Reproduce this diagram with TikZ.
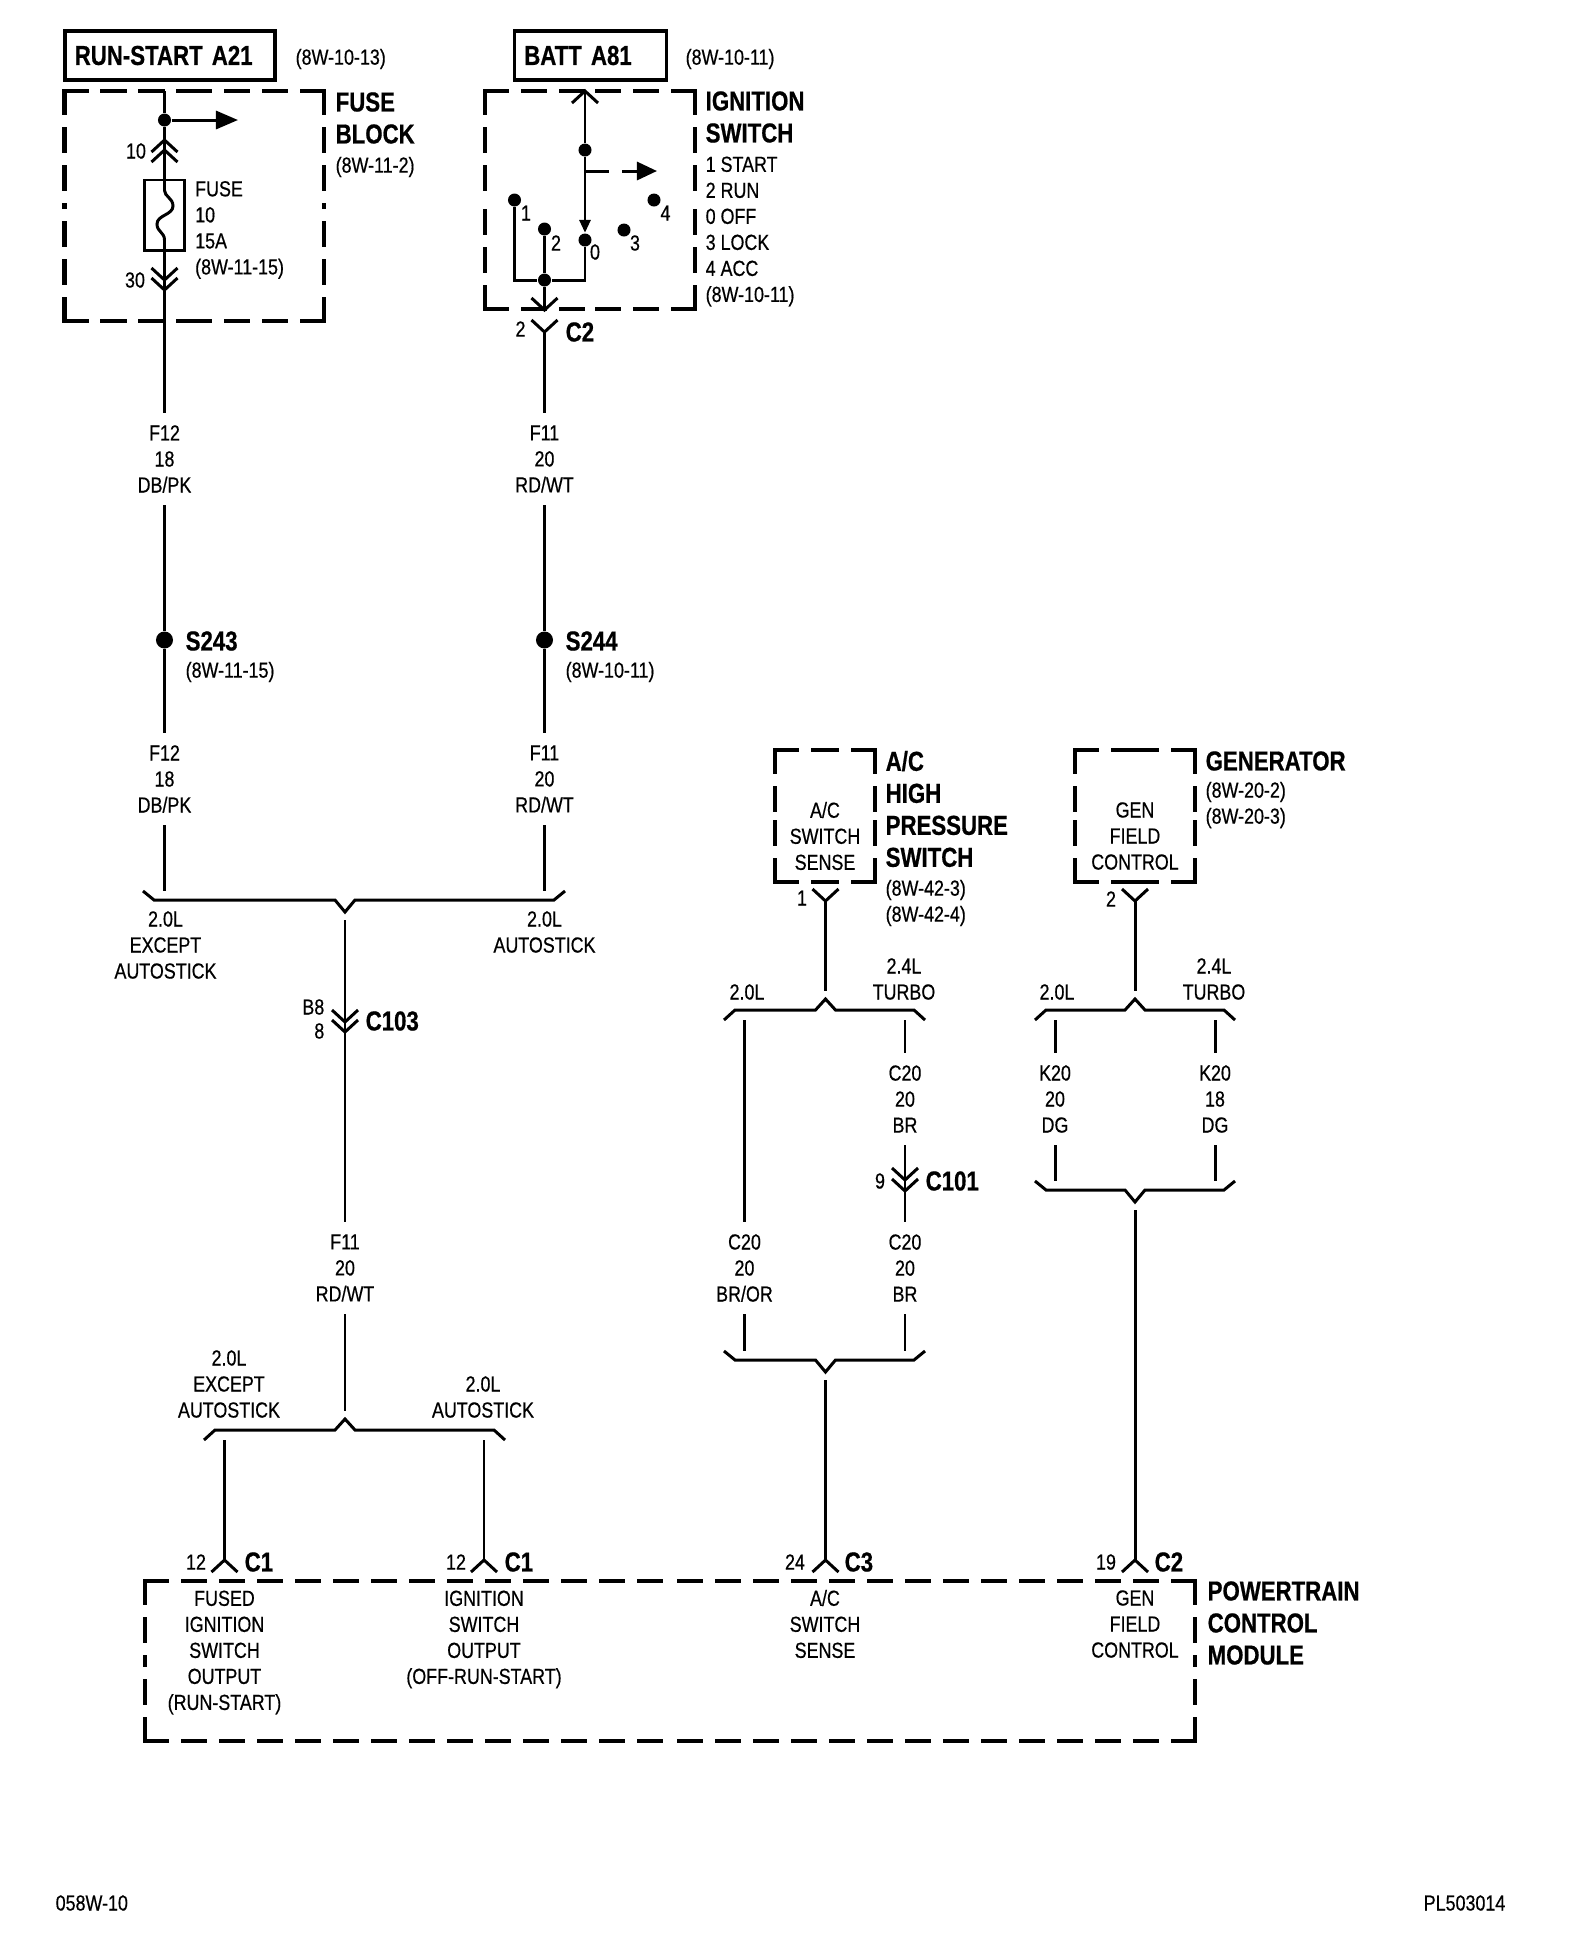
\documentclass[tikz,border=0pt]{standalone}
\usepackage{fontspec}
\setmainfont{Liberation Sans}[FakeStretch=0.82,FakeBold=0.5,BoldFeatures={FakeStretch=0.81,FakeBold=0.6}]
\usetikzlibrary{arrows.meta}

\newcommand{\labfont}{\fontsize{6.2}{7.4}\selectfont}
\newcommand{\headfont}{\fontsize{7.8}{9.1}\selectfont\bfseries\spaceskip=0.18em}

\tikzset{
	wire/.style={line width=0.85pt},
	dashside/.style={line width=1.2pt,line cap=rect,dash pattern=on 0.22cm off 0.16cm},
	lab/.style={font=\labfont,align=center,inner sep=0pt},
	lableft/.style={font=\labfont,align=left,anchor=west,inner sep=0pt},
	wirelab/.style={lab,inner ysep=0.12cm},
	head/.style={font=\headfont,align=left,anchor=west,inner sep=0pt},
	headbox/.style={draw,line width=1pt,font=\headfont,align=left,anchor=west,inner xsep=0.1cm,inner ysep=0pt,minimum height=0.49cm},
	junct/.style={circle,fill=black,inner sep=0pt,minimum size=0.13cm},
	splice/.style={circle,fill=black,inner sep=0pt,minimum size=0.17cm}
}

\newcommand{\chevup}[1]{\draw[wire] (#1) ++(-13,12) -- ++(13,-12) -- ++(13,12);}
\newcommand{\chevdn}[1]{\draw[wire] (#1) ++(-13,-12) -- ++(13,12) -- ++(13,-12);}
\newcommand{\busdn}[4]{\draw[wire] (#3,#2-21) -- (#3+11,#2-12) -- (#1-10,#2-12) -- (#1,#2) -- (#1+10,#2-12) -- (#4-11,#2-12) -- (#4,#2-21);}
\newcommand{\busup}[4]{\draw[wire] (#3,#2+21) -- (#3+11,#2+11) -- (#1-10,#2+11) -- (#1,#2) -- (#1+10,#2+11) -- (#4-11,#2+11) -- (#4,#2+21);}
\newcommand{\dashedbox}[4]{
	\draw[dashside] (#1,#2) -- ({(#1+#3)/2},#2);
	\draw[dashside] (#3,#2) -- ({(#1+#3)/2},#2);
	\draw[dashside] (#1,#4) -- ({(#1+#3)/2},#4);
	\draw[dashside] (#3,#4) -- ({(#1+#3)/2},#4);
	\draw[dashside] (#1,#2) -- (#1,{(#2+#4)/2});
	\draw[dashside] (#1,#4) -- (#1,{(#2+#4)/2});
	\draw[dashside] (#3,#2) -- (#3,{(#2+#4)/2});
	\draw[dashside] (#3,#4) -- (#3,{(#2+#4)/2});
}

\begin{document}
\begin{tikzpicture}[x=0.01cm,y=-0.01cm]
	\useasboundingbox (0,0) rectangle (1568,1944);

	% fuse block
	\node[headbox,text width=1.9cm] (runstart) at (63,55.5) {RUN-START A21};
	\node[lableft] (runref) at (295,59) {(8W-10-13)};
	\dashedbox{64.5}{91}{324}{321}
	\node[head] (fbtitle) at (335,118) {FUSE\\BLOCK};
	\node[lableft] (fbref) at (335,167) {(8W-11-2)};

	\coordinate (fbtop) at (164.5,91);
	\node[junct] (fbdot) at (164.5,120) {};
	\coordinate (fbout) at (238,120);
	\coordinate (con10a) at (164.5,140);
	\coordinate (con10b) at (164.5,150);
	\coordinate (con30a) at (164.5,280);
	\coordinate (con30b) at (164.5,290);
	\node[draw,line width=0.85pt,minimum width=0.39cm,minimum height=0.7cm,inner sep=0pt] (fuse) at (164.5,215) {};
	\node[lab] (pin10) at (136,151) {10};
	\node[lab] (pin30) at (135,280) {30};
	\node[lableft] (fusetext) at (194.5,230) {FUSE\\10\\15A\\(8W-11-15)};

	\draw[wire] (fbtop) -- (fbdot);
	\draw[wire,-{Triangle[length=0.22cm,width=0.18cm]}] (fbdot) -- (fbout);
	\draw[wire] (fbdot) -- (con10a) -- (fuse.north);
	\draw[wire] (fuse.north) -- ++(0,12) .. controls ++(0,6) and (173,198) .. (173,206) .. controls (173,215) and (157,215) .. (157,224) .. controls (157,232) and (164.5,232) .. (164.5,240) -- (fuse.south);
	\draw[wire] (fuse.south) -- (con30b);
	\chevup{con10a}
	\chevup{con10b}
	\chevdn{con30a}
	\chevdn{con30b}

	% ignition switch
	\node[headbox,text width=1.32cm] (batt) at (512.5,55.5) {BATT A81};
	\node[lableft] (battref) at (685,59) {(8W-10-11)};
	\dashedbox{485}{91}{695}{309}
	\node[head] (igtitle) at (705,117) {IGNITION\\SWITCH};
	\node[lableft] (iglist) at (705,231.5) {1 START\\2 RUN\\0 OFF\\3 LOCK\\4 ACC\\(8W-10-11)};

	\coordinate (igtop) at (585,91);
	\coordinate (igbranch) at (585,171);
	\coordinate (igdash) at (609,171);
	\coordinate (igdashb) at (622,171);
	\coordinate (igout) at (657,171);
	\node[junct] (igdot) at (585,150) {};
	\node[junct] (pos0) at (585,240) {};
	\node[junct] (pos1) at (514.5,200) {};
	\node[junct] (pos2) at (544.5,229) {};
	\node[junct] (pos3) at (624,230) {};
	\node[junct] (pos4) at (654,200) {};
	\node[junct] (igjoin) at (544.5,280) {};
	\coordinate (igcorna) at (514.5,280);
	\coordinate (igcornb) at (585,280);
	\coordinate (igbot) at (544.5,310);
	\coordinate (con2) at (544.5,332);
	\node[lab] (txt1) at (526,213) {1};
	\node[lab] (txt2) at (556,243) {2};
	\node[lab] (txt0) at (595,252) {0};
	\node[lab] (txt3) at (635,243) {3};
	\node[lab] (txt4) at (665.5,213) {4};
	\node[lab] (pin2) at (520.5,329) {2};
	\node[head] (c2a) at (565,332) {C2};

	\draw[wire] (igtop) -- (igdot);
	\draw[wire,-{Triangle[length=0.13cm,width=0.11cm]}] (igdot) -- (pos0.north);
	\draw[wire] (igbranch) -- (igdash);
	\draw[wire,-{Triangle[length=0.2cm,width=0.18cm]}] (igdashb) -- (igout);
	\draw[wire] (pos1) -- (igcorna) -- (igjoin);
	\draw[wire] (pos0) -- (igcornb) -- (igjoin);
	\draw[wire] (pos2) -- (igjoin);
	\draw[wire] (igjoin) -- (igbot);
	\chevup{igtop}
	\chevdn{igbot}
	\chevdn{con2}

	% feeds down to the splices
	\node[wirelab] (f12a) at (164.5,459) {F12\\18\\DB/PK};
	\node[wirelab] (f11a) at (544.5,459) {F11\\20\\RD/WT};
	\node[splice] (s243) at (164.5,640) {};
	\node[splice] (s244) at (544.5,640) {};
	\node[head] (s243t) at (185,641) {S243};
	\node[head] (s244t) at (565,641) {S244};
	\node[lableft] (s243r) at (185,672) {(8W-11-15)};
	\node[lableft] (s244r) at (565,672) {(8W-10-11)};
	\node[wirelab] (f12b) at (164.5,779) {F12\\18\\DB/PK};
	\node[wirelab] (f11b) at (544.5,779) {F11\\20\\RD/WT};
	\coordinate (busa) at (164.5,891);
	\coordinate (busb) at (544.5,891);

	\draw[wire] (con30b) -- (f12a);
	\draw[wire] (f12a) -- (s243);
	\draw[wire] (s243) -- (f12b);
	\draw[wire] (f12b) -- (busa);
	\draw[wire] (con2) -- (f11a);
	\draw[wire] (f11a) -- (s244);
	\draw[wire] (s244) -- (f11b);
	\draw[wire] (f11b) -- (busb);
	\busdn{345}{912}{143}{565}
	\node[lab] (buslabl) at (165.5,945) {2.0L\\EXCEPT\\AUTOSTICK};
	\node[lab] (buslabr) at (544.5,932) {2.0L\\AUTOSTICK};

	% run down to the PCM
	\coordinate (mida) at (345,920);
	\coordinate (c103a) at (345,1022);
	\coordinate (c103b) at (345,1032);
	\node[lab,anchor=east] (pinb8) at (325,1007) {B8};
	\node[lab,anchor=east] (pin8) at (325,1031) {8};
	\node[head] (c103t) at (365,1021) {C103};
	\node[wirelab] (f11c) at (345,1268) {F11\\20\\RD/WT};
	\coordinate (midb) at (345,1411);
	\draw[wire] (mida) -- (c103b) -- (f11c);
	\draw[wire] (f11c) -- (midb);
	\chevdn{c103a}
	\chevdn{c103b}
	\busup{345}{1419}{204}{505}
	\node[lab] (buslabc) at (229,1384) {2.0L\\EXCEPT\\AUTOSTICK};
	\node[lab] (buslabd) at (483,1397) {2.0L\\AUTOSTICK};
	\coordinate (fusedtop) at (224.5,1440);
	\coordinate (igntop) at (484,1440);
	\coordinate (pcma) at (224.5,1560);
	\coordinate (pcmb) at (484,1560);
	\draw[wire] (fusedtop) -- (pcma);
	\draw[wire] (igntop) -- (pcmb);
	\chevup{pcma}
	\chevup{pcmb}
	\node[lab] (pin12a) at (196,1562) {12};
	\node[lab] (pin12b) at (456,1562) {12};
	\node[head] (c1a) at (244,1562) {C1};
	\node[head] (c1b) at (504,1562) {C1};

	% A/C high pressure switch
	\dashedbox{775}{750}{875}{882}
	\node[lab] (acin) at (825,836) {A/C\\SWITCH\\SENSE};
	\node[head] (actitle) at (885,809) {A/C\\HIGH\\PRESSURE\\SWITCH};
	\node[lableft] (acref) at (885,903) {(8W-42-3)\\(8W-42-4)};
	\coordinate (conac) at (825.5,901);
	\coordinate (acbus) at (825.5,991);
	\node[lab] (pin1) at (802,898) {1};
	\draw[wire] (conac) -- (acbus);
	\chevdn{conac}
	\busup{825.5}{999}{724}{925}
	\node[lab] (ac20) at (747,992) {2.0L};
	\node[lab] (ac24) at (904,979) {2.4L\\TURBO};
	\coordinate (c20top) at (744.5,1020);
	\coordinate (brtop) at (905,1020);
	\node[wirelab] (c20a) at (905,1099) {C20\\20\\BR};
	\coordinate (c101a) at (905,1180);
	\coordinate (c101b) at (905,1191);
	\node[lab] (pin9) at (880,1181) {9};
	\node[head] (c101t) at (925,1181) {C101};
	\node[wirelab] (c20b) at (744.5,1268) {C20\\20\\BR/OR};
	\node[wirelab] (c20c) at (905,1268) {C20\\20\\BR};
	\coordinate (c20end) at (744.5,1351);
	\coordinate (brend) at (905,1351);
	\draw[wire] (c20top) -- (c20b);
	\draw[wire] (c20b) -- (c20end);
	\draw[wire] (brtop) -- (c20a);
	\draw[wire] (c20a) -- (c101b) -- (c20c);
	\draw[wire] (c20c) -- (brend);
	\chevdn{c101a}
	\chevdn{c101b}
	\busdn{825.5}{1372}{724}{925}
	\coordinate (acdown) at (825.5,1380);
	\coordinate (pcmc) at (825.5,1560);
	\draw[wire] (acdown) -- (pcmc);
	\chevup{pcmc}
	\node[lab] (pin24) at (795,1562) {24};
	\node[head] (c3) at (844,1562) {C3};

	% generator
	\dashedbox{1075}{750}{1195}{882}
	\node[lab] (genin) at (1135,836) {GEN\\FIELD\\CONTROL};
	\node[head] (gentitle) at (1205,761) {GENERATOR};
	\node[lableft] (genref) at (1205,805) {(8W-20-2)\\(8W-20-3)};
	\coordinate (congen) at (1135,901);
	\coordinate (genbus) at (1135,991);
	\node[lab] (pin2b) at (1111,899) {2};
	\draw[wire] (congen) -- (genbus);
	\chevdn{congen}
	\busup{1135}{999}{1035}{1235}
	\node[lab] (gen20) at (1057,992) {2.0L};
	\node[lab] (gen24) at (1214,979) {2.4L\\TURBO};
	\coordinate (k20atop) at (1055,1020);
	\coordinate (k20btop) at (1215,1020);
	\node[wirelab] (k20a) at (1055,1099) {K20\\20\\DG};
	\node[wirelab] (k20b) at (1215,1099) {K20\\18\\DG};
	\coordinate (k20aend) at (1055,1181);
	\coordinate (k20bend) at (1215,1181);
	\draw[wire] (k20atop) -- (k20a);
	\draw[wire] (k20a) -- (k20aend);
	\draw[wire] (k20btop) -- (k20b);
	\draw[wire] (k20b) -- (k20bend);
	\busdn{1135}{1202}{1035}{1235}
	\coordinate (gendown) at (1135,1210);
	\coordinate (pcmd) at (1135,1560);
	\draw[wire] (gendown) -- (pcmd);
	\chevup{pcmd}
	\node[lab] (pin19) at (1106,1562) {19};
	\node[head] (c2b) at (1154,1562) {C2};

	% powertrain control module
	\dashedbox{145}{1581}{1195}{1741}
	\node[lab] (pcmtxta) at (224.5,1652.5) {FUSED\\IGNITION\\SWITCH\\OUTPUT\\(RUN-START)};
	\node[lab] (pcmtxtb) at (484,1639.5) {IGNITION\\SWITCH\\OUTPUT\\(OFF-RUN-START)};
	\node[lab] (pcmtxtc) at (825,1624) {A/C\\SWITCH\\SENSE};
	\node[lab] (pcmtxtd) at (1135,1624) {GEN\\FIELD\\CONTROL};
	\node[head] (pcmtitle) at (1207,1623) {POWERTRAIN\\CONTROL\\MODULE};

	\node[lableft] (pageno) at (55,1903) {058W-10};
	\node[lab,anchor=east] (plateno) at (1506,1903) {PL503014};
\end{tikzpicture}
\end{document}
